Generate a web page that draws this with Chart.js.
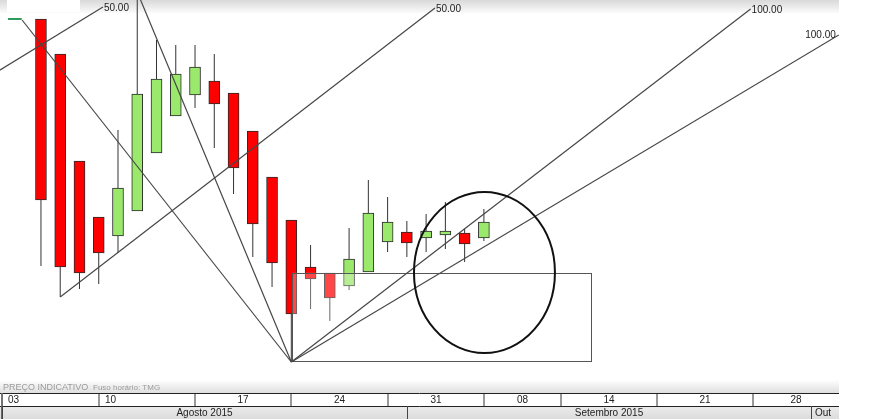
<!DOCTYPE html>
<html>
<head>
<meta charset="utf-8">
<script src="https://cdn.jsdelivr.net/npm/chart.js@4.4.1/dist/chart.umd.min.js"></script>
<style>
html, body { margin: 0; padding: 0; background: #fff; }
</style>
</head>
<body>
<canvas id="myCanvas" width="880" height="419"></canvas>
<script>
'use strict'

// pregões (índice 1 = 04/08/2015 ... 24 = 04/09/2015)
var dias = ["04/08", "05/08", "06/08", "07/08", "10/08", "11/08", "12/08", "13/08", "14/08", "17/08", "18/08", "19/08",
    "20/08", "21/08", "24/08", "25/08", "26/08", "27/08", "28/08", "31/08", "01/09", "02/09", "03/09", "04/09"]
var abertura   = [359, 324, 217, 161, 142, 167, 225, 262, 283, 297, 285, 247, 201, 158, 111, 105, 92, 106, 136, 146, 140, 143, 145, 140]
var maxima     = [359, 324, 217, 161, 248, 382, 338, 333, 333, 324, 285, 247, 201, 158, 133, 105, 150, 198, 181, 157, 164, 176, 149, 169]
var minima     = [112, 81, 89, 94, 125, 167, 225, 262, 270, 230, 184, 121, 91, 16, 69, 57, 88, 106, 126, 121, 126, 129, 116, 137]
var fechamento = [178, 111, 105, 125, 190, 284, 299, 304, 311, 274, 210, 154, 115, 64, 99, 80, 119, 165, 156, 135, 147, 147, 134, 156]

// eixo de datas
var semanas = ["03", "10", "17", "24", "31", "08", "14", "21", "28"]
var semanaLimites = [-1, 4, 9, 14, 19, 24, 28, 33, 38]
var meses = ["Agosto 2015", "Setembro 2015", "Out"]
var mesLimites = [-1, 20, 41]

// desenhos (x = pregão, y = preço)
var marcaVerde = [[-0.71, 359], [0, 359]]
var linhaTopoEsq = [[-1.64, 302], [4.22, 371]]
var linhaSuporte = [[2, 81], [21.46, 370]]
var linhaQueda1 = [[0.02, 358], [14, 16]]
var linhaQueda2 = [[6.0, 386], [14, 16]]
var leque1 = [[14, 16], [37.85, 369]]
var leque2 = [[14, 16], [42.43, 343]]
var rotulosLinhas = {topoEsq: "50.00", suporte: "50.00", leque1: "100.00", leque2: "100.00"}
var retangulo = [14.05, 29.56, 17, 105.3]   // x1, x2, y1, y2
var elipse = [24.03, 105.5, 3.66, 80.5]     // cx, cy, rx, ry

var xMin = -1.127
var xMax = 42.44

var canvas = document.getElementById("myCanvas")
var ctx = canvas.getContext("2d")

function toPoints(arr){
    var out = []
    for(let i = 0; i < arr.length; i++){
        out.push({x: arr[i][0], y: arr[i][1]})
    }
    return out
}

var corpos = [], pavios = [], coresCorpo = []
for(let i = 0; i < dias.length; i++){
    corpos.push({x: i + 1, y: [abertura[i], fechamento[i]]})
    pavios.push({x: i + 1, y: [minima[i], maxima[i]]})
    coresCorpo.push(fechamento[i] >= abertura[i] ? "#9ae86c" : "#ff0000")
}

function lineSet(name, arr, color, width){
    return {
        type: "line",
        label: name,
        data: toPoints(arr),
        borderColor: color || "#474747",
        borderWidth: width || 1.2,
        pointRadius: 0,
        order: 0
    }
}

var fundo = {
    id: "fundo",
    beforeDraw: function(chart){
        var c = chart.ctx, a = chart.chartArea
        c.save()
        c.fillStyle = "#fff"
        c.fillRect(0, 0, chart.width, chart.height)
        var g = c.createLinearGradient(0, 0, 0, 13)
        g.addColorStop(0, "#d9d9d9")
        g.addColorStop(1, "#fbfbfb")
        c.fillStyle = g
        c.fillRect(0, 0, a.right, 13)
        c.fillStyle = "#fff"
        c.fillRect(7, 0, 73, 12)
        c.restore()
    }
}

var desenhos = {
    id: "desenhos",
    afterDatasetDraw: function(chart, args){
        if(args.meta.label !== "Corpo") return
        var c = chart.ctx, xs = chart.scales.x, ys = chart.scales.y
        var x1 = xs.getPixelForValue(retangulo[0]), x2 = xs.getPixelForValue(retangulo[1])
        var y1 = ys.getPixelForValue(retangulo[2]), y2 = ys.getPixelForValue(retangulo[3])
        c.save()
        c.fillStyle = "rgba(255,255,255,0.28)"
        c.fillRect(x1, y2, x2 - x1, y1 - y2)
        c.strokeStyle = "#555"
        c.lineWidth = 1
        c.strokeRect(Math.round(x1) + 0.5, Math.round(y2) + 0.5, Math.round(x2 - x1), Math.round(y1 - y2))
        c.restore()
    },
    afterDatasetsDraw: function(chart){
        var c = chart.ctx, xs = chart.scales.x, ys = chart.scales.y, a = chart.chartArea
        c.save()
        // elipse
        var cx = xs.getPixelForValue(elipse[0]), cy = ys.getPixelForValue(elipse[1])
        var rx = xs.getPixelForValue(elipse[0] + elipse[2]) - cx
        var ry = cy - ys.getPixelForValue(elipse[1] + elipse[3])
        c.beginPath()
        c.ellipse(cx, cy, rx, ry, 0, 0, Math.PI * 2)
        c.strokeStyle = "#111"
        c.lineWidth = 2
        c.stroke()
        // rótulos das linhas
        c.font = "10px 'Liberation Sans'"
        c.fillStyle = "#222"
        c.textBaseline = "middle"
        var lista = [[linhaTopoEsq, rotulosLinhas.topoEsq], [linhaSuporte, rotulosLinhas.suporte],
            [leque1, rotulosLinhas.leque1], [leque2, rotulosLinhas.leque2]]
        for(let i = 0; i < lista.length; i++){
            var fim = lista[i][0][lista[i][0].length - 1]
            var px = xs.getPixelForValue(fim[0]), py = ys.getPixelForValue(fim[1])
            if(px > a.right - 40){
                c.textAlign = "right"
                c.fillText(lista[i][1], px - 3, py)
            } else {
                c.textAlign = "left"
                c.fillText(lista[i][1], px + 1, py + 1)
            }
        }
        c.restore()
    }
}

var eixoDatas = {
    id: "eixoDatas",
    afterDraw: function(chart){
        var c = chart.ctx, xs = chart.scales.x, a = chart.chartArea
        var R = a.right, top = a.bottom
        c.save()
        var g = c.createLinearGradient(0, top + 2, 0, top + 15)
        g.addColorStop(0, "#ffffff")
        g.addColorStop(1, "#dedede")
        c.fillStyle = g
        c.fillRect(0, top, R, 15)
        c.fillStyle = "#9a9a9a"
        c.textBaseline = "middle"
        c.textAlign = "left"
        c.font = "9px 'Liberation Sans'"
        c.fillText("PREÇO INDICATIVO", 3, top + 10)
        c.font = "8px 'Liberation Sans'"
        c.fillText("Fuso horário: TMG", 93, top + 10)

        var y0 = top + 15, y1 = y0 + 13, y2 = chart.height
        c.fillStyle = "#fff"
        c.fillRect(0, y0, R, y1 - y0)
        var g2 = c.createLinearGradient(0, y1, 0, y2)
        g2.addColorStop(0, "#ececec")
        g2.addColorStop(1, "#dcdcdc")
        c.fillStyle = g2
        c.fillRect(0, y1, R, y2 - y1)
        c.strokeStyle = "#222"
        c.lineWidth = 1
        c.beginPath()
        c.moveTo(0, y0 + 0.5); c.lineTo(R, y0 + 0.5)
        c.moveTo(0, y1 + 0.5); c.lineTo(R, y1 + 0.5)
        c.stroke()
        // borda esquerda
        c.strokeStyle = "#666"
        c.lineWidth = 2
        c.beginPath(); c.moveTo(2, y0); c.lineTo(2, y2); c.stroke()

        c.font = "10px 'Liberation Sans'"
        c.fillStyle = "#222"
        c.strokeStyle = "#777"
        c.lineWidth = 1.5
        for(let i = 0; i < semanas.length; i++){
            var p0 = Math.round(xs.getPixelForValue(semanaLimites[i]))
            var p1 = i + 1 < semanaLimites.length ? Math.round(xs.getPixelForValue(semanaLimites[i + 1])) : R
            c.beginPath(); c.moveTo(p0, y0 + 1); c.lineTo(p0, y1); c.stroke()
            if(i < 2){
                c.textAlign = "left"
                c.fillText(semanas[i], p0 + 6, y0 + 7)
            } else {
                c.textAlign = "center"
                c.fillText(semanas[i], (p0 + p1) / 2, y0 + 7)
            }
        }
        c.strokeStyle = "#444"
        c.lineWidth = 1
        for(let i = 0; i < meses.length; i++){
            var m0 = Math.round(xs.getPixelForValue(mesLimites[i]))
            var m1 = i + 1 < mesLimites.length ? Math.round(xs.getPixelForValue(mesLimites[i + 1])) : R
            c.beginPath(); c.moveTo(m0 + 0.5, y1); c.lineTo(m0 + 0.5, y2); c.stroke()
            if(i === meses.length - 1){
                c.textAlign = "left"
                c.fillText(meses[i], m0 + 4, y1 + 7)
            } else {
                c.textAlign = "center"
                c.fillText(meses[i], (m0 + m1) / 2, y1 + 7)
            }
        }
        c.restore()
    }
}

new Chart(ctx, {
    type: "bar",
    data: {
        datasets: [
            lineSet("marcaVerde", marcaVerde, "#2e9a5e", 2),
            lineSet("topoEsq", linhaTopoEsq),
            lineSet("suporte", linhaSuporte),
            lineSet("queda1", linhaQueda1),
            lineSet("queda2", linhaQueda2),
            lineSet("leque1", leque1),
            lineSet("leque2", leque2),
            {
                label: "Corpo",
                data: corpos,
                backgroundColor: coresCorpo,
                borderColor: "#2a2a2a",
                borderWidth: 1,
                borderSkipped: false,
                barThickness: 11,
                grouped: false,
                order: 1
            },
            {
                label: "Pavio",
                data: pavios,
                backgroundColor: "#333",
                borderWidth: 0,
                barThickness: 1,
                grouped: false,
                inflateAmount: 0,
                order: 2
            }
        ]
    },
    options: {
        responsive: false,
        animation: false,
        devicePixelRatio: 1,
        layout: {padding: {left: 0, right: 41, top: 0, bottom: 41}},
        plugins: {legend: {display: false}, tooltip: {enabled: false}},
        scales: {
            x: {type: "linear", min: xMin, max: xMax, display: false, offset: false},
            y: {min: 0, max: 378, display: false}
        }
    },
    plugins: [fundo, desenhos, eixoDatas]
});
</script>
</body>
</html>
